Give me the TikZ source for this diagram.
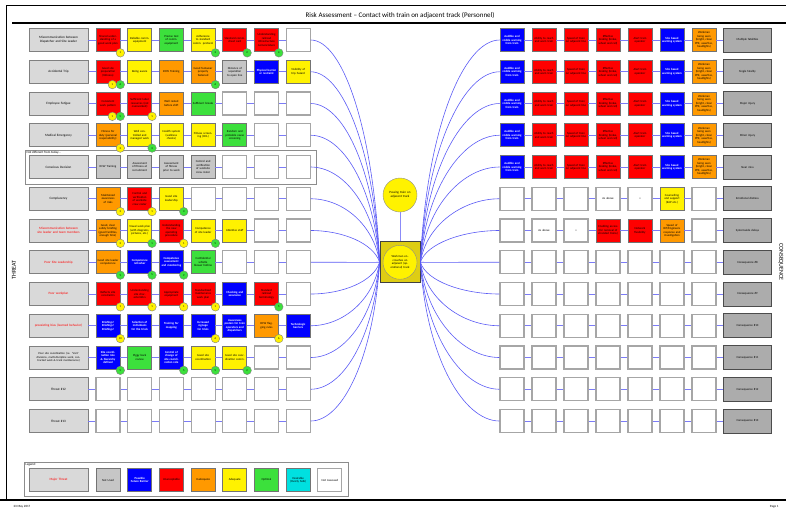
\documentclass[tikz,border=0pt]{standalone}
\usepackage{fontspec}
\setmainfont{Carlito}
\usetikzlibrary{calc}

\definecolor{inadorange}{RGB}{255,153,0}
\definecolor{optgreen}{RGB}{60,224,60}
\definecolor{desircyan}{RGB}{0,224,224}
\definecolor{linkblue}{RGB}{90,90,245}
\definecolor{tefill}{RGB}{222,205,20}

% barrier on the threat side / consequence side: row, column, style, text
\newcommand\lbar[4]{\node[#3] (L#1-#2) at ({76.3+31.7*#2},{8.25+31.75*#1}) {#4};}
\newcommand\rbar[4]{\node[#3] (R#1-#2) at ({480+32*#2},{8.25+31.75*#1}) {#4};}
% effectiveness marker: node, colour, number, shift
\newcommand\badge[4]{\node[badge,fill=#2] (#1-#2) at ([xshift=#4,yshift=-1]#1.south east) {#3};}

\begin{document}
\begin{tikzpicture}[x=1pt,y=-1pt,
    barrier/.style={draw=black!55, line width=0.7, minimum width=24, minimum height=23,
      inner sep=0.4, text width=21, align=center, font=\fontsize{3}{3.5}\selectfont},
    blank/.style={barrier, draw=black!35, line width=1.1, fill=white},
    unacc/.style={barrier, fill=red},
    inad/.style={barrier, fill=inadorange},
    adeq/.style={barrier, fill=yellow},
    optim/.style={barrier, fill=optgreen},
    notused/.style={barrier, fill=gray!45},
    pfb/.style={barrier, fill=blue, text=white, font=\fontsize{3}{3.5}\selectfont\bfseries},
    desir/.style={barrier, fill=desircyan},
    threat/.style={draw=black!50, line width=0.9, fill=gray!30, minimum width=59,
      minimum height=23, text width=50, align=center, font=\fontsize{3.3}{3.9}\selectfont},
    cons/.style={draw=black!70, line width=0.9, fill=gray!65, minimum width=47,
      minimum height=24, text width=42, align=center, font=\fontsize{3}{3.5}\selectfont},
    badge/.style={circle, draw=black!50, line width=0.4, minimum size=8.5, inner sep=0,
      font=\fontsize{2.8}{3}\selectfont},
    bowlink/.style={linkblue, line width=0.6},
    rowline/.style={linkblue!80, line width=0.8},
    tiny/.style={font=\fontsize{3.2}{3.8}\selectfont}]
  \useasboundingbox (0,0) rectangle (786,512);

  % page frame
  \draw[line width=0.8] (6,500) -- (6,5) -- (786,5);
  \draw[line width=1.6] (12,23) -- (786,23);
  \draw[line width=1.6] (0,500) -- (786,500);
  \node (title) at (400,16) {\fontsize{7}{8}\selectfont Risk Assessment -- Contact with train on adjacent track (Personnel)};
  \node[tiny, anchor=west] (date) at (10,507) {23 May 2017};
  \node[tiny, anchor=east] (page) at (782,507) {Page 1};
  \node[rotate=90, font=\fontsize{6}{7}\selectfont] (thrlabel) at (14,270) {THREAT};
  \node[rotate=-90, font=\fontsize{6}{7}\selectfont] (conslabel) at (781,262) {CONSEQUENCE};

  % hazard and top event
  \node[circle, draw=black!45, fill=yellow, minimum size=34, text width=26, align=center,
    inner sep=0, font=\fontsize{3.2}{3.8}\selectfont] (hz) at (400,195) {Passing train on adjacent track};
  \node[draw=black!75, line width=0.8, fill=tefill, minimum width=40, minimum height=41] (te) at (400,262.25) {};
  \node[circle, draw=black!45, fill=yellow, minimum size=34, text width=26, align=center,
    inner sep=0, font=\fontsize{3}{3.5}\selectfont] (tec) at (te.center) {Workman encroaches on adjacent (operational) track};
  \draw[linkblue!70, line width=1] (hz) -- (te);

  % threats
  \node[threat] (T1) at (58.5,40) {Miscommunication between Dispatcher and Site Leader};
  \node[threat] (T2) at (58.5,71.75) {Accidental Trip};
  \node[threat] (T3) at (58.5,103.5) {Employee Fatigue};
  \node[threat] (T4) at (58.5,135.25) {Medical Emergency};
  \node[threat] (T5) at (58.5,167) {Conscious Decision};
  \node[threat] (T6) at (58.5,198.75) {Complacency};
  \node[threat, text=red] (T7) at (58.5,230.5) {Miscommunication between site leader and team members};
  \node[threat, text=red] (T8) at (58.5,262.25) {Poor Site Leadership};
  \node[threat, text=red] (T9) at (58.5,294) {Poor workplan};
  \node[threat, text=red] (T10) at (58.5,325.75) {preexisting bias (learned behavior)};
  \node[threat, font=\fontsize{2.9}{3.4}\selectfont] (T11) at (58.5,357.5) {Poor site coordination (i.e. `Visit' divisions, multi-discipline work, contracted work \& track maintenance)};
  \node[threat] (T12) at (58.5,389.25) {Threat \#12};
  \node[threat] (T13) at (58.5,421) {Threat \#13};

  % frame round row 5
  \draw[black!45, line width=0.9] (25,150) rectangle (316,184);
  \node[tiny, anchor=north west, inner sep=0.5] (notdiff) at (26,150.5) {Not different from today...};

  % threat side barriers
  \lbar{1}{1}{unacc}{Shared understanding of a good work plan}
  \lbar{1}{2}{adeq}{Reliable comm. equipment}
  \lbar{1}{3}{optim}{Precise test of comm. equipment}
  \lbar{1}{4}{adeq}{Adherence to standard comm. protocol}
  \lbar{1}{5}{unacc}{Standard comm. cheat card}
  \lbar{1}{6}{unacc}{Understanding railroad infrastructure nomenclature}
  \lbar{1}{7}{blank}{}

  \lbar{2}{1}{unacc}{Good site preparation (tidiness)}
  \lbar{2}{2}{adeq}{Being aware}
  \lbar{2}{3}{inad}{RCW Training}
  \lbar{2}{4}{inad}{Good footwear properly fastened}
  \lbar{2}{5}{notused}{Distance of separation to open line}
  \lbar{2}{6}{pfb}{Physical barrier or restraint}
  \lbar{2}{7}{adeq}{Visibility of trip hazard}

  \lbar{3}{1}{unacc}{Consistent work pattern}
  \lbar{3}{2}{unacc}{Sufficient labor resources (not overworked)}
  \lbar{3}{3}{inad}{Well rested before shift}
  \lbar{3}{4}{optim}{Sufficient breaks}

  \lbar{4}{1}{inad}{Fitness for duty (personal responsibility)}
  \lbar{4}{2}{adeq}{Well controlled and managed work}
  \lbar{4}{3}{adeq}{Health system (wellness checks)}
  \lbar{4}{4}{adeq}{Fitness screening (CDL)}
  \lbar{4}{5}{optim}{Random and probable cause screening}

  \lbar{5}{1}{notused}{RCW Training}
  \lbar{5}{2}{notused}{Assessment of fitness at recruitment}
  \lbar{5}{3}{notused}{Assessment of fitness prior to work}
  \lbar{5}{4}{notused}{Control and verification of worksite crew roster}

  \lbar{6}{1}{inad}{Maintained awareness of risks}
  \lbar{6}{2}{unacc}{Control and verification of worksite crew roster}
  \lbar{6}{3}{adeq}{Good site leadership}

  \lbar{7}{1}{inad}{Good, clear safety briefing (good facilities, enough time)}
  \lbar{7}{2}{adeq}{Visual work plan (with diagrams, pictures, etc.)}
  \lbar{7}{3}{unacc}{Understanding the new operating procedure}
  \lbar{7}{4}{adeq}{Competence of site leader}
  \lbar{7}{5}{adeq}{Attentive staff}

  \lbar{8}{1}{inad}{Good site leader competence}
  \lbar{8}{2}{pfb}{Competence refresher}
  \lbar{8}{3}{pfb}{Competence assessment and monitoring}
  \lbar{8}{4}{optim}{Confidential whistle blower hotline}

  \lbar{9}{1}{unacc}{Reflects site constraints}
  \lbar{9}{2}{unacc}{Understanding site characteristics}
  \lbar{9}{3}{unacc}{Appropriate equipment}
  \lbar{9}{4}{unacc}{Standardized maintenance work plan}
  \lbar{9}{5}{pfb}{Checking and assurance}
  \lbar{9}{6}{unacc}{Standard railroad terminology}
  \lbar{9}{7}{blank}{}

  \lbar{10}{1}{pfb}{Briefings! Briefings! Briefings!}
  \lbar{10}{2}{pfb}{Selection of individuals for the trials}
  \lbar{10}{3}{pfb}{Training for mapping}
  \lbar{10}{4}{pfb}{Increased signage for trials}
  \lbar{10}{5}{pfb}{Awareness posters for train operators and dispatchers}
  \lbar{10}{6}{inad}{RCW flagging rules}
  \lbar{10}{7}{pfb}{Technologic barriers}

  \lbar{11}{1}{pfb}{Site coordination role \& hierarchy defined}
  \lbar{11}{2}{optim}{Piggy back review}
  \lbar{11}{3}{pfb}{Control of change of site coordination role}
  \lbar{11}{4}{adeq}{Good site coordination}
  \lbar{11}{5}{adeq}{Good site coordination comm.}

  % empty barriers
  \foreach \c in {5,6,7} {\lbar{3}{\c}{blank}{}}
  \foreach \c in {6,7} {\lbar{4}{\c}{blank}{}}
  \foreach \c in {5,6,7} {\lbar{5}{\c}{blank}{}}
  \foreach \c in {4,...,7} {\lbar{6}{\c}{blank}{}}
  \foreach \c in {6,7} {\lbar{7}{\c}{blank}{}}
  \foreach \c in {5,6,7} {\lbar{8}{\c}{blank}{}}
  \foreach \c in {6,7} {\lbar{11}{\c}{blank}{}}
  \foreach \c in {1,...,7} {\lbar{12}{\c}{blank}{} \lbar{13}{\c}{blank}{}}

  % effectiveness markers
  \badge{L1-1}{yellow}{1}{0}
  \badge{L1-4}{optgreen}{3}{0}
  \badge{L1-5}{optgreen}{2}{0}
  \badge{L1-6}{optgreen}{4}{0}
  \badge{L2-1}{yellow}{1}{-8}
  \badge{L2-1}{optgreen}{6}{0}
  \badge{L2-4}{optgreen}{6}{0}
  \badge{L3-1}{yellow}{1}{-8}
  \badge{L3-1}{optgreen}{5}{0}
  \badge{L3-2}{yellow}{1}{0}
  \badge{L4-1}{yellow}{3}{0}
  \badge{L4-2}{optgreen}{3}{0}
  \badge{L6-1}{yellow}{3}{0}
  \badge{L6-2}{yellow}{1}{0}
  \badge{L6-3}{optgreen}{3}{0}
  \badge{L7-1}{yellow}{2}{0}
  \badge{L7-2}{optgreen}{1}{0}
  \badge{L7-3}{yellow}{1}{0}
  \badge{L7-4}{optgreen}{5}{0}
  \badge{L8-1}{optgreen}{9}{0}
  \badge{L8-2}{optgreen}{5}{0}
  \badge{L8-3}{optgreen}{9}{0}
  \badge{L9-1}{yellow}{1}{0}
  \badge{L9-2}{yellow}{1}{0}
  \badge{L9-3}{yellow}{1}{0}
  \badge{L9-4}{yellow}{1}{0}
  \badge{L9-6}{optgreen}{5}{0}
  \badge{L10-1}{yellow}{10}{0}
  \badge{L10-4}{yellow}{6}{0}
  \badge{L10-6}{yellow}{6}{0}
  \badge{L11-1}{optgreen}{5}{0}
  \badge{L11-3}{optgreen}{5}{0}
  \badge{L11-4}{optgreen}{5}{0}
  \badge{L11-5}{optgreen}{2}{0}

  % consequence side barriers
  \foreach \r in {1,...,5} {
    \rbar{\r}{1}{pfb}{Audible and visible warning from train}
    \rbar{\r}{2}{unacc}{Ability to reach and warn train}
    \rbar{\r}{3}{unacc}{Speed of train on adjacent line}
    \rbar{\r}{4}{unacc}{Effective braking (brake, wheel and rail)}
    \rbar{\r}{5}{unacc}{Alert train operator}
    \rbar{\r}{6}{pfb}{Site based warning system}
    \rbar{\r}{7}{inad}{Workman being seen (bright, clean PPE, assertive, headlights)}
  }
  \foreach \c in {1,2,3} {\rbar{6}{\c}{blank}{}}
  \rbar{6}{4}{blank}{As above}
  \rbar{6}{5}{blank}{+}
  \rbar{6}{6}{adeq}{Counselling and support (EAP etc.)}
  \rbar{6}{7}{blank}{}
  \rbar{7}{1}{blank}{}
  \rbar{7}{2}{blank}{As above}
  \rbar{7}{3}{blank}{+}
  \rbar{7}{4}{unacc}{Enabling access (for removal of stranded trains)}
  \rbar{7}{5}{unacc}{Network flexibility}
  \rbar{7}{6}{inad}{Speed of RIT/Engineers response and investigation}
  \rbar{7}{7}{blank}{}
  \foreach \r in {8,...,13} {
    \foreach \c in {1,...,7} {\rbar{\r}{\c}{blank}{}}
  }

  % consequences
  \node[cons] (C1) at (747.5,40) {Multiple fatalities};
  \node[cons] (C2) at (747.5,71.75) {Single fatality};
  \node[cons] (C3) at (747.5,103.5) {Major injury};
  \node[cons] (C4) at (747.5,135.25) {Minor injury};
  \node[cons] (C5) at (747.5,167) {Near miss};
  \node[cons] (C6) at (747.5,198.75) {Emotional distress};
  \node[cons] (C7) at (747.5,230.5) {Systemwide delays};
  \foreach \r in {8,...,13} {
    \node[cons] (C\r) at (747.5,{8.25+31.75*\r}) {Consequence \#\r};
  }

  % connectors
  \foreach \r in {1,...,13} {
    \draw[rowline] (T\r) -- (L\r-1) -- (L\r-2) -- (L\r-3) -- (L\r-4) -- (L\r-5) -- (L\r-6) -- (L\r-7);
    \draw[rowline] (R\r-1) -- (R\r-2) -- (R\r-3) -- (R\r-4) -- (R\r-5) -- (R\r-6) -- (R\r-7) -- (C\r);
    \pgfmathsetmacro\dy{253.75-31.75*\r}
    \draw[bowlink] (L\r-7.east) .. controls +(32,0) and +(-6,{-0.6*\dy}) .. (te.west);
    \draw[bowlink] (te.east) .. controls +(6,{-0.6*\dy}) and +(-36,0) .. (R\r-1.west);
  }

  % legend
  \draw[black!45, line width=0.9] (24,462) rectangle (348,496);
  \node[tiny, anchor=north west, inner sep=0.5] (lgtitle) at (25,462.5) {Legend:};
  \node[threat, text=red] (lgMajor) at (58.5,480) {Major Threat};
  \node[notused] (lgNotUsed) at (108,480) {Not Used};
  \node[pfb] (lgFuture) at (139.7,480) {Possible Future Barrier};
  \node[unacc] (lgUnacc) at (171.4,480) {Unacceptable};
  \node[inad] (lgInad) at (203.1,480) {Inadequate};
  \node[adeq] (lgAdeq) at (234.8,480) {Adequate};
  \node[optim] (lgOptim) at (266.5,480) {Optimal};
  \node[desir] (lgDesir) at (298.2,480) {Desirable (Overly Safe)};
  \node[blank] (lgNotAss) at (329.9,480) {Not Assessed};
\end{tikzpicture}
\end{document}
